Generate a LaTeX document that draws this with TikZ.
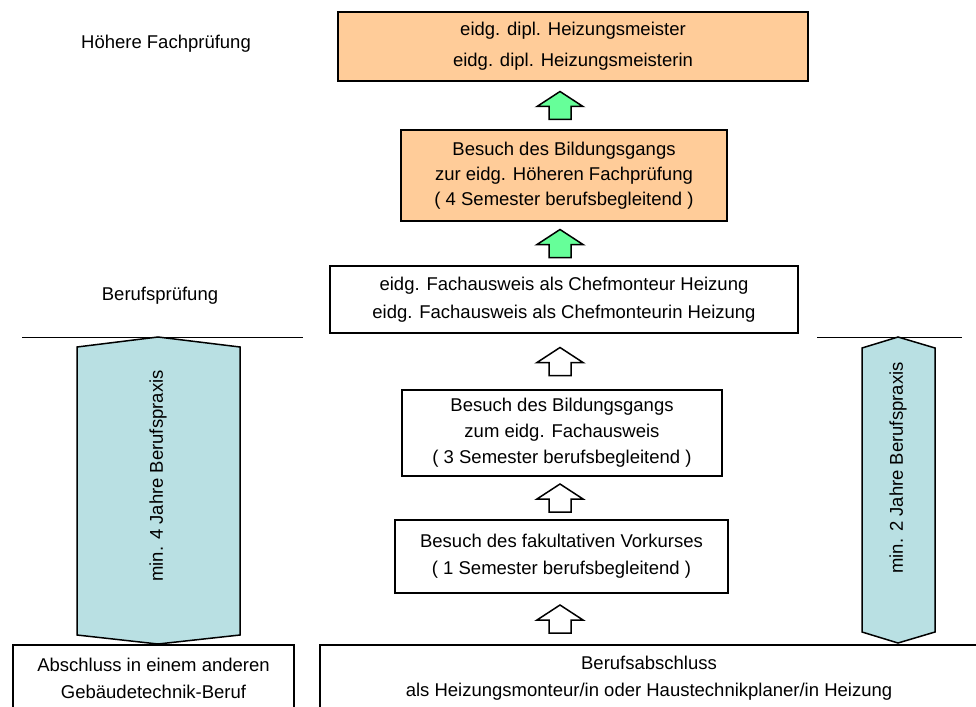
\documentclass[tikz,border=0pt]{standalone}
\usepackage{fontspec}
\setmainfont{Liberation Sans}
\usepackage{tikz}
\usetikzlibrary{calc,positioning}
\definecolor{orangebox}{HTML}{FFCC99}
\definecolor{greenarrow}{HTML}{66FF99}
\definecolor{tealarrow}{HTML}{B9E0E3}

\tikzset{
  box/.style={draw,line width=1.5pt,align=center,inner sep=0pt},
  zeilen/.style={font=\fontsize{18.5}{#1}\selectfont},
  pics/hoch/.style={code={
    \draw[line width=1.5pt,fill=#1] (-11,14) -- (-11,1) -- (-23,1) -- (0,-14) -- (23,1) -- (11,1) -- (11,14) -- cycle;
  }}
}

\begin{document}
\begin{tikzpicture}[x=1pt,y=-1pt]
\useasboundingbox (0,0) rectangle (976,706);
\coordinate (achse) at (560,0);
\node[box,fill=orangebox,zeilen=31,minimum width=470pt,minimum height=69pt] (meister) at (573,46.5) {eidg. dipl. Heizungsmeister\\eidg. dipl. Heizungsmeisterin};
\node[box,fill=orangebox,zeilen=25,minimum width=326pt,minimum height=91pt] (hfpkurs) at (564,175.5) {Besuch des Bildungsgangs\\zur eidg. Höheren Fachprüfung\\( 4 Semester berufsbegleitend )};
\node[box,zeilen=28,minimum width=468pt,minimum height=67pt] (chef) at (564,299.5) {eidg. Fachausweis als Chefmonteur Heizung\\eidg. Fachausweis als Chefmonteurin Heizung};
\node[box,zeilen=26,minimum width=320pt,minimum height=86pt] (fakurs) at (562,433) {Besuch des Bildungsgangs\\zum eidg. Fachausweis\\( 3 Semester berufsbegleitend )};
\node[box,zeilen=27,minimum width=333pt,minimum height=73pt] (vorkurs) at (561.5,556.5) {Besuch des fakultativen Vorkurses\\( 1 Semester berufsbegleitend )};
\node[box,zeilen=27,minimum width=281pt,minimum height=67pt] (andere) at (153.5,678.5) {Abschluss in einem anderen\\Gebäudetechnik-Beruf};
\node[box,zeilen=27,minimum width=658pt,minimum height=67pt] (lehre) at (649,678.5) {Berufsabschluss\\als Heizungsmonteur/in oder Haustechnikplaner/in Heizung};
\node[zeilen=26] (hoehere) at (166,44) {Höhere Fachprüfung};
\node[zeilen=26] (bp) at (160,296) {Berufsprüfung};
\pic at ($(achse |- meister.south)!.5!(achse |- hfpkurs.north)$) {hoch=greenarrow};
\pic at ($(achse |- hfpkurs.south)!.5!(achse |- chef.north)$) {hoch=greenarrow};
\pic at ($(achse |- chef.south)!.5!(achse |- fakurs.north)$) {hoch=white};
\pic at ($(achse |- fakurs.south)!.5!(achse |- vorkurs.north)$) {hoch=white};
\pic at ($(achse |- vorkurs.south)!.5!(achse |- lehre.north)$) {hoch=white};
\draw[line width=0.8pt] (22,337) -- (303,337);
\draw[line width=0.8pt] (817,337) -- (962,337);
\draw[line width=1.5pt,fill=tealarrow] (77,347) -- (158,337) -- (240,347) -- (240,635) -- (158,644) -- (77,635) -- cycle;
\draw[line width=1.5pt,fill=tealarrow] (862,348) -- (898,337) -- (935,348) -- (935,632) -- (898,643) -- (862,632) -- cycle;
\node[zeilen=26,rotate=90] (praxis4) at (158,476) {min. 4 Jahre Berufspraxis};
\node[zeilen=26,rotate=90] (praxis2) at (898,468) {min. 2 Jahre Berufspraxis};
\end{tikzpicture}
\end{document}
